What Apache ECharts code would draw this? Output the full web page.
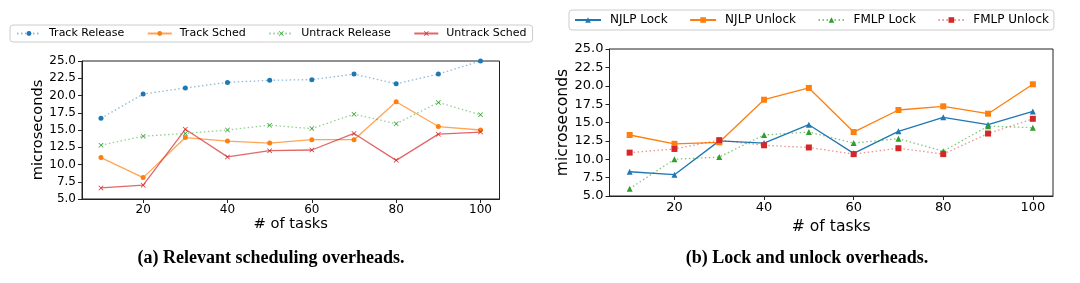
<!DOCTYPE html>
<html>
<head>
<meta charset="utf-8">
<script src="https://cdn.jsdelivr.net/npm/echarts@6/dist/echarts.min.js"></script>
<style>
  html, body { margin: 0; padding: 0; background: #fff; }
  #chart { width: 1080px; height: 283px; }
</style>
</head>
<body>
<div id="chart"></div>
<script>
// number of tasks (x values) and the tick labels on the x axis
const tasks = [10, 20, 30, 40, 50, 60, 70, 80, 90, 100]
const xTicks = [20, 40, 60, 80, 100]

// (a) relevant scheduling overheads
const trackRelease = [16.7, 20.2, 21.1, 21.9, 22.2, 22.3, 23.1, 21.7, 23.1, 25.0]
const trackSched = [11.0, 8.1, 13.9, 13.4, 13.1, 13.6, 13.6, 19.1, 15.5, 15.0]
const untrackRelease = [12.8, 14.1, 14.5, 15.0, 15.7, 15.2, 17.3, 15.9, 19.0, 17.2]
const untrackSched = [6.6, 7.0, 15.1, 11.1, 12.0, 12.1, 14.5, 10.6, 14.4, 14.7]

// (b) lock and unlock overheads
const njlpLock = [8.3, 7.9, 12.5, 12.2, 14.7, 10.8, 13.8, 15.7, 14.7, 16.5]
const njlpUnlock = [13.3, 12.1, 12.3, 18.1, 19.7, 13.7, 16.7, 17.2, 16.2, 20.2]
const fmlpLock = [6.0, 10.0, 10.3, 13.3, 13.7, 12.2, 12.8, 11.1, 14.5, 14.3]
const fmlpUnlock = [10.9, 11.4, 12.6, 11.9, 11.6, 10.7, 11.5, 10.7, 13.5, 15.5]

const FONT = 'DejaVu Sans'
const BLUE = '#1f77b4', ORANGE = '#ff7f0e', GREEN = '#2ca02c', RED = '#d62728'
const CROSS = 'path://M0,1L1,0L5,4L9,0L10,1L6,5L10,9L9,10L5,6L1,10L0,9L4,5Z'

const chart = echarts.init(document.getElementById('chart'))

function mkSeries(name, vals, gi, color, symbol, size, dotted, alpha) {
  return {
    name: name,
    type: 'line',
    xAxisIndex: gi,
    yAxisIndex: gi,
    data: tasks.map((t, i) => [t, vals[i]]),
    symbol: symbol,
    symbolSize: size,
    itemStyle: { color: color },
    lineStyle: { color: color, width: 1.3, type: dotted ? [1.5, 2.5] : 'solid', opacity: alpha },
    emphasis: { disabled: true },
    animation: false
  }
}

function xAxis(gi, fs, nfs, gap) {
  return {
    gridIndex: gi, type: 'value', min: 5.5, max: 104.5,
    splitLine: { show: false },
    axisLine: { show: true, onZero: false, lineStyle: { color: '#222', width: 1 } },
    axisTick: { show: true, customValues: xTicks, length: 4, lineStyle: { color: '#222' } },
    axisLabel: { customValues: xTicks, fontSize: fs, color: '#000', margin: 5, fontFamily: FONT },
    name: '# of tasks', nameLocation: 'middle', nameGap: gap,
    nameTextStyle: { fontSize: nfs, color: '#000', fontFamily: FONT }
  }
}

function yAxis(gi, fs, nfs, gap) {
  return {
    gridIndex: gi, type: 'value', min: 5, max: 25, interval: 2.5,
    splitLine: { show: false },
    axisLine: { show: true, onZero: false, lineStyle: { color: '#222', width: 1 } },
    axisTick: { show: true, length: 4, lineStyle: { color: '#222' } },
    axisLabel: { fontSize: fs, color: '#000', margin: 6, fontFamily: FONT, formatter: v => v.toFixed(1) },
    name: 'microseconds', nameLocation: 'middle', nameGap: gap,
    nameTextStyle: { fontSize: nfs, color: '#000', fontFamily: FONT }
  }
}

chart.setOption({
  animation: false,
  grid: [
    { left: 82, right: 580.5, top: 61, bottom: 84, show: true, borderColor: '#222', borderWidth: 1 },
    { left: 609.5, right: 27, top: 49, bottom: 87, show: true, borderColor: '#222', borderWidth: 1 }
  ],
  xAxis: [xAxis(0, 12, 14.7, 17), xAxis(1, 13, 15.6, 18)],
  yAxis: [yAxis(0, 12, 14.6, 35), yAxis(1, 13, 15.6, 35)],
  legend: [
    {
      left: 10, top: 25, padding: [3, 6], itemGap: 22.5, itemWidth: 24, itemHeight: 6,
      borderColor: '#ccc', borderWidth: 1, borderRadius: 3,
      textStyle: { fontSize: 11, color: '#000', fontFamily: FONT, padding: [0, 0, 0, 3] },
      data: ['Track Release', 'Track Sched', 'Untrack Release', 'Untrack Sched']
    },
    {
      left: 569, top: 10, padding: [4, 5], itemGap: 21.5, itemWidth: 26, itemHeight: 7,
      borderColor: '#ccc', borderWidth: 1, borderRadius: 3,
      textStyle: { fontSize: 12, color: '#000', fontFamily: FONT, padding: [0, 0, 0, 4] },
      data: ['NJLP Lock', 'NJLP Unlock', 'FMLP Lock', 'FMLP Unlock']
    }
  ],
  series: [
    mkSeries('Track Release', trackRelease, 0, BLUE, 'circle', 5, true, 0.5),
    mkSeries('Track Sched', trackSched, 0, ORANGE, 'circle', 5, false, 0.7),
    mkSeries('Untrack Release', untrackRelease, 0, GREEN, CROSS, 5, true, 0.5),
    mkSeries('Untrack Sched', untrackSched, 0, RED, CROSS, 5, false, 0.7),
    mkSeries('NJLP Lock', njlpLock, 1, BLUE, 'triangle', 6, false, 1),
    mkSeries('NJLP Unlock', njlpUnlock, 1, ORANGE, 'rect', 6, false, 1),
    mkSeries('FMLP Lock', fmlpLock, 1, GREEN, 'triangle', 6, true, 0.6),
    mkSeries('FMLP Unlock', fmlpUnlock, 1, RED, 'rect', 6, true, 0.5)
  ],
  graphic: [
    {
      type: 'text', x: 271, y: 249,
      style: { text: '(a) Relevant scheduling overheads.', font: 'bold 18px "Liberation Serif"', fill: '#000', align: 'center' }
    },
    {
      type: 'text', x: 807, y: 249,
      style: { text: '(b) Lock and unlock overheads.', font: 'bold 18px "Liberation Serif"', fill: '#000', align: 'center' }
    }
  ]
})
</script>
</body>
</html>
